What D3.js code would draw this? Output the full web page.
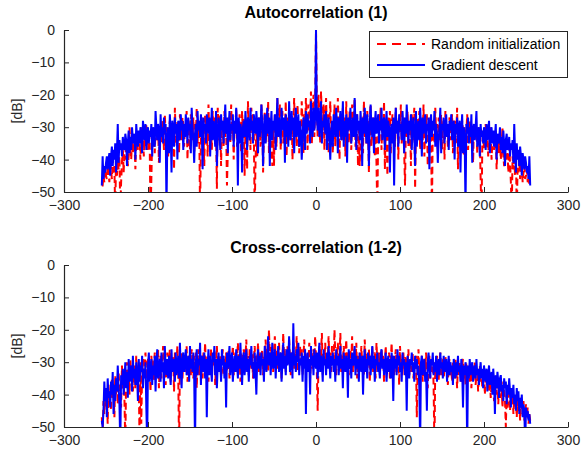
<!DOCTYPE html>
<html><head><meta charset="utf-8">
<script src="https://cdn.jsdelivr.net/npm/d3@7"></script>
<style>
body{margin:0;background:#fff;}
svg{display:block;font-family:"Liberation Sans",Arial,sans-serif;}
</style></head>
<body><svg id="c" width="584" height="456"></svg>
<script>
// ---------- DATA ----------
const seriesNames = ["Random initialization", "Gradient descent"];
const titles = ["Autocorrelation (1)", "Cross-correlation (1-2)"];
const xTicks = [-300, -200, -100, 0, 100, 200, 300];
const yTicks = [0, -10, -20, -30, -40, -50];
const maxLag = 255;

// Autocorrelation magnitude is symmetric in lag: values for lags 0..255
const autoRandomHalf = [0,
-24,-33,-20,-29,-35,-19,-28,-31,-23,-37,
-27,-21,-32,-26,-38,-29,-22,-34,-30,-38,
-31,-23,-36,-28,-33,-21,-30,-40,-26,-29,
-34,-24,-31,-27,-39,-22,-32,-29,-35,-25,
-30,-37,-23,-33,-28,-21,-36,-30,-26,-42,
-29,-42,-34,-31,-27,-38,-22,-33,-29,-35,
-25,-31,-44,-28,-23,-36,-30,-27,-34,-39,
-29,-41,-56,-32,-26,-30,-24,-37,-28,-33,
-22,-43,-29,-31,-45,-27,-33,-25,-38,-30,
-26,-34,-29,-36,-24,-31,-28,-40,-27,-32,
-23,-35,-30,-27,-38,-48,-29,-33,-25,-36,
-31,-28,-42,-26,-34,-30,-24,-49,-29,-35,
-27,-32,-25,-37,-30,-28,-34,-23,-39,-31,
-29,-26,-42,-31,-33,-27,-33,-57,-30,-28,
-35,-24,-32,-29,-38,-27,-34,-30,-26,-37,
-31,-28,-40,-25,-33,-30,-36,-29,-27,-34,
-31,-26,-38,-30,-28,-35,-32,-24,-43,-31,
-29,-36,-33,-28,-31,-39,-30,-34,-32,-26,
-37,-31,-28,-35,-33,-30,-41,-29,-34,-32,
-31,-38,-30,-36,-33,-46,-58,-35,-31,-37,
-33,-29,-36,-32,-39,-31,-35,-30,-40,-34,
-32,-37,-35,-31,-43,-36,-33,-38,-34,-40,
-36,-30,-39,-42,-37,-34,-40,-38,-44,-36,
-41,-47,-56,-39,-43,-40,-45,-38,-57,-42,
-44,-40,-46,-43,-41,-47,-44,-42,-46,-45,
-43,-47,-45,-48,-48];

const autoGradientHalf = [0,
-27,-31,-24,-33,-29,-22,-35,-28,-30,-26,
-32,-25,-37,-29,-27,-34,-40,-31,-28,-36,
-26,-30,-33,-24,-29,-38,-27,-31,-25,-34,
-30,-22,-36,-28,-33,-26,-41,-27,-31,-29,
-24,-35,-30,-27,-33,-21,-29,-37,-26,-31,
-28,-34,-25,-30,-42,-27,-32,-24,-29,-35,
-26,-31,-42,-29,-23,-30,-33,-27,-38,-29,
-25,-32,-30,-26,-35,-28,-31,-24,-34,-29,
-27,-37,-30,-25,-33,-28,-30,-44,-31,-29,
-35,-27,-48,-30,-24,-32,-28,-36,-26,-31,
-29,-34,-25,-30,-38,-27,-32,-23,-29,-35,
-28,-31,-26,-37,-30,-27,-33,-42,-25,-36,
-31,-28,-34,-24,-30,-39,-27,-32,-29,-26,
-35,-29,-31,-27,-43,-30,-26,-33,-28,-31,
-25,-36,-29,-32,-41,-34,-30,-24,-38,-29,
-31,-27,-35,-30,-26,-33,-29,-37,-28,-31,
-26,-34,-30,-28,-40,-29,-32,-27,-36,-30,
-28,-44,-31,-26,-38,-30,-34,-55,-29,-32,
-27,-35,-30,-33,-26,-41,-31,-29,-34,-30,
-25,-36,-32,-30,-39,-29,-33,-31,-35,-30,
-32,-37,-29,-34,-31,-28,-38,-33,-30,-35,
-31,-36,-33,-29,-40,-32,-35,-34,-30,-37,
-33,-38,-31,-35,-42,-34,-32,-37,-36,-33,
-39,-35,-37,-34,-41,-29,-38,-44,-35,-40,
-37,-42,-36,-39,-45,-38,-40,-43,-39,-41,
-44,-42,-46,-39,-48];

// Cross-correlation, lags -255..255
const crossRandom = [
-47,-52,-42,-46,-38,-44,-40,-49,-37,-43,
-39,-45,-35,-41,-38,-47,-34,-40,-36,-43,
-33,-39,-37,-44,-31,-38,-35,-42,-55,-34,
-30,-37,-33,-40,-29,-36,-32,-39,-35,-31,
-38,-28,-34,-31,-36,-55,-30,-49,-33,-29,
-35,-31,-27,-37,-32,-29,-34,-30,-39,-28,
-33,-29,-36,-27,-31,-34,-30,-26,-38,-32,
-28,-35,-30,-25,-33,-29,-37,-31,-27,-34,
-30,-26,-36,-29,-32,-28,-39,-27,-33,-30,
-25,-34,-57,-29,-32,-27,-35,-30,-28,-33,
-30,-25,-36,-28,-32,-29,-34,-26,-31,-35,
-28,-33,-27,-38,-30,-26,-34,-29,-32,-28,
-35,-27,-31,-24,-33,-30,-28,-36,-29,-32,
-26,-34,-29,-31,-27,-37,-30,-25,-33,-29,
-32,-28,-35,-30,-26,-34,-29,-31,-27,-33,
-30,-26,-35,-28,-32,-29,-25,-34,-30,-27,
-33,-29,-24,-31,-28,-36,-27,-32,-30,-26,
-33,-29,-23,-31,-28,-34,-26,-30,-32,-27,
-35,-29,-25,-32,-28,-30,-24,-33,-27,-31,
-29,-26,-34,-28,-31,-23,-30,-27,-33,-20,
-28,-31,-25,-29,-33,-27,-22,-30,-26,-32,
-28,-24,-31,-27,-35,-29,-21,-30,-26,-33,
-28,-25,-31,-23,-29,-34,-27,-30,-24,-32,
-27,-29,-22,-33,-28,-31,-25,-30,-26,-34,
-29,-23,-31,-27,-33,-28,-30,-24,-35,-29,
-27,-32,-26,-30,-22,-28,-33,-45,-29,-25,
-31,-27,-21,-34,-28,-30,-24,-32,-27,-29,
-22,-31,-27,-33,-25,-29,-30,-20,-28,-34,
-27,-24,-31,-29,-21,-33,-28,-30,-25,-32,
-28,-23,-31,-27,-34,-29,-26,-30,-22,-33,
-29,-26,-31,-24,-35,-28,-30,-27,-32,-25,
-31,-28,-34,-23,-29,-33,-27,-30,-26,-36,
-28,-31,-25,-33,-29,-27,-35,-24,-30,-32,
-27,-34,-29,-26,-31,-28,-36,-30,-25,-33,
-29,-31,-27,-35,-30,-24,-32,-28,-34,-29,
-26,-33,-30,-28,-37,-25,-31,-29,-34,-27,
-32,-30,-28,-36,-31,-26,-34,-29,-33,-31,
-27,-35,-30,-32,-28,-47,-31,-26,-34,-30,
-33,-28,-36,-31,-29,-34,-27,-32,-38,-30,
-28,-35,-31,-33,-29,-37,-57,-30,-34,-28,
-32,-36,-30,-27,-34,-31,-29,-35,-32,-28,
-33,-30,-37,-31,-29,-34,-32,-36,-30,-33,
-35,-29,-32,-38,-31,-34,-30,-33,-36,-31,
-29,-35,-32,-37,-30,-34,-31,-33,-36,-32,
-38,-31,-35,-33,-30,-37,-34,-32,-39,-35,
-31,-36,-33,-38,-34,-32,-40,-35,-37,-33,
-36,-39,-34,-41,-37,-35,-38,-42,-36,-34,
-40,-37,-43,-35,-39,-41,-38,-44,-36,-40,
-42,-50,-39,-44,-41,-38,-45,-40,-43,-39,
-46,-41,-44,-42,-47,-40,-45,-43,-48,-41,
-44,-46,-42,-48,-45,-43,-47,-44,-49,-46,
-48];

const crossGradient = [
-48,-50,-45,-36,-42,-38,-47,-35,-41,-39,
-44,-36,-40,-33,-46,-37,-42,-35,-39,-31,
-38,-43,-56,-34,-37,-32,-40,-35,-30,-38,
-33,-41,-29,-36,-34,-31,-39,-28,-35,-32,
-37,-30,-34,-42,-29,-36,-31,-33,-28,-38,
-32,-35,-30,-44,-55,-31,-27,-36,-33,-29,
-37,-31,-34,-28,-39,-30,-26,-35,-32,-29,
-36,-27,-33,-30,-38,-25,-31,-34,-29,-35,
-28,-32,-37,-26,-33,-30,-29,-36,-27,-34,
-31,-28,-35,-24,-32,-38,-29,-27,-33,-30,
-26,-34,-31,-28,-36,-25,-32,-29,-33,-27,
-35,-56,-30,-26,-34,-29,-31,-24,-37,-28,
-30,-33,-27,-35,-29,-47,-31,-26,-34,-28,
-32,-36,-27,-30,-25,-34,-29,-38,-31,-27,
-33,-29,-36,-26,-31,-28,-35,-30,-44,-27,
-32,-29,-25,-34,-30,-27,-36,-31,-28,-33,
-26,-30,-35,-28,-32,-24,-31,-37,-29,-27,
-34,-30,-26,-33,-29,-36,-28,-31,-25,-32,
-30,-35,-27,-33,-40,-29,-26,-32,-28,-34,
-27,-31,-29,-36,-25,-30,-33,-28,-22,-31,
-27,-34,-29,-24,-32,-30,-26,-35,-28,-31,
-25,-33,-29,-27,-36,-30,-24,-32,-28,-34,
-26,-31,-29,-22,-33,-30,-27,-35,-18,-31,
-28,-33,-26,-30,-24,-34,-29,-31,-27,-36,
-28,-32,-26,-46,-30,-27,-33,-29,-40,-25,
-31,-28,-34,-26,-30,-32,-27,-35,-29,-24,
-33,-28,-30,-36,-26,-31,-29,-34,-27,-32,
-25,-30,-35,-28,-31,-27,-33,-29,-36,-26,
-31,-28,-34,-30,-25,-32,-29,-38,-27,-31,
-33,-28,-30,-41,-26,-32,-29,-35,-27,-31,
-30,-25,-34,-28,-32,-29,-36,-27,-31,-33,
-28,-40,-30,-26,-33,-29,-35,-27,-31,-28,
-34,-30,-25,-32,-28,-36,-29,-31,-27,-33,
-30,-35,-28,-26,-32,-29,-34,-30,-27,-36,
-31,-28,-33,-29,-35,-27,-30,-42,-28,-32,
-29,-34,-26,-31,-28,-33,-30,-36,-27,-31,
-29,-34,-30,-45,-28,-32,-35,-29,-31,-27,
-33,-30,-36,-28,-32,-29,-34,-31,-38,-56,
-30,-28,-34,-31,-29,-36,-33,-45,-30,-27,
-32,-35,-29,-31,-27,-34,-30,-33,-28,-36,
-31,-29,-34,-27,-32,-30,-35,-28,-33,-31,
-29,-36,-32,-28,-34,-30,-33,-31,-37,-29,
-32,-35,-30,-34,-28,-33,-31,-36,-29,-32,
-44,-31,-34,-30,-33,-56,-31,-35,-29,-34,
-32,-30,-36,-33,-31,-35,-29,-34,-32,-37,
-33,-30,-35,-32,-38,-31,-34,-36,-32,-39,
-34,-31,-37,-35,-33,-40,-32,-36,-46,-34,
-38,-33,-36,-41,-35,-34,-39,-37,-42,-35,
-38,-36,-43,-37,-40,-35,-39,-44,-38,-41,
-37,-43,-40,-45,-38,-42,-39,-46,-41,-44,
-40,-47,-43,-45,-56,-44,-47,-45,-48,-46,
-49];

// full symmetric autocorrelation arrays (lags -255..255)
const autoRandom = autoRandomHalf.slice(1).reverse().concat(autoRandomHalf);
const autoGradient = autoGradientHalf.slice(1).reverse().concat(autoGradientHalf);

const panels = [
  {title: titles[0], series: [autoRandom, autoGradient], top: 30, legend: true},
  {title: titles[1], series: [crossRandom, crossGradient], top: 265, legend: false}
];

// ---------- DRAW ----------
const svg = d3.select("#c");
const left = 64, right = 568, ph = 162;
const axisColor = "#262626";
const colors = ["#ff0000", "#0000ff"];
const fontFam = "Liberation Sans, Arial, sans-serif";

panels.forEach((p, pi) => {
  const x = d3.scaleLinear().domain([-300, 300]).range([left, right]);
  const y = d3.scaleLinear().domain([-50, 0]).range([p.top + ph, p.top]);
  const g = svg.append("g");

  const clipId = "clip" + pi;
  svg.append("clipPath").attr("id", clipId).append("rect")
    .attr("x", left).attr("y", p.top - 1).attr("width", right - left).attr("height", ph + 1);

  const line = d3.line().x((d, i) => x(i - maxLag)).y(d => y(d));
  const plot = g.append("g").attr("clip-path", `url(#${clipId})`);
  plot.append("path").datum(p.series[0])
    .attr("d", line).attr("fill", "none").attr("stroke", colors[0])
    .attr("stroke-width", 2).attr("stroke-dasharray", "7,4");
  plot.append("path").datum(p.series[1])
    .attr("d", line).attr("fill", "none").attr("stroke", colors[1])
    .attr("stroke-width", 2);

  // axes
  const xa = g.append("g").attr("transform", `translate(0,${p.top + ph})`)
    .call(d3.axisBottom(x).tickValues(xTicks).tickSizeInner(-5).tickSizeOuter(0).tickPadding(8));
  const ya = g.append("g").attr("transform", `translate(${left},0)`)
    .call(d3.axisLeft(y).tickValues(yTicks).tickSizeInner(-5).tickSizeOuter(0).tickPadding(9));
  [xa, ya].forEach(a => {
    a.select(".domain").attr("stroke", axisColor).attr("stroke-width", 1.2);
    a.selectAll(".tick line").attr("stroke", axisColor);
    a.selectAll(".tick text").attr("fill", axisColor)
      .style("font-size", "14px").style("font-family", fontFam);
  });

  // title
  g.append("text").attr("x", (left + right) / 2).attr("y", p.top - 12)
    .attr("text-anchor", "middle").attr("font-weight", "bold")
    .style("font-size", "16px").attr("fill", "#000").text(p.title);

  // y label
  g.append("text").attr("transform", `translate(22,${p.top + ph / 2}) rotate(-90)`)
    .attr("text-anchor", "middle").style("font-size", "14px").attr("fill", axisColor).text("[dB]");

  if (p.legend) {
    const lg = g.append("g");
    lg.append("rect").attr("x", 369.5).attr("y", 31.5).attr("width", 198).attr("height", 46)
      .attr("fill", "#fff").attr("stroke", axisColor).attr("stroke-width", 1);
    seriesNames.forEach((n, i) => {
      const yy = 44 + i * 21;
      lg.append("line").attr("x1", 377).attr("x2", 425).attr("y1", yy).attr("y2", yy)
        .attr("stroke", colors[i]).attr("stroke-width", 2)
        .attr("stroke-dasharray", i === 0 ? "9,6" : null);
      lg.append("text").attr("x", 431).attr("y", yy).attr("dy", "0.35em")
        .style("font-size", "14px").attr("fill", "#000").text(n);
    });
  }
});
</script></body></html>
